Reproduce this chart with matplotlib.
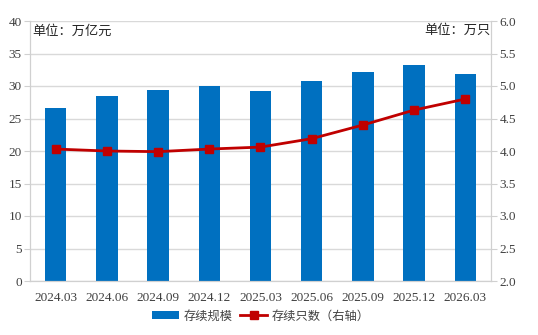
import matplotlib
matplotlib.use("Agg")
import matplotlib.pyplot as plt
from matplotlib.lines import Line2D
from matplotlib.patches import Patch

categories = ["2024.03", "2024.06", "2024.09", "2024.12", "2025.03",
              "2025.06", "2025.09", "2025.12", "2026.03"]
scale_values = [26.6, 28.5, 29.4, 30.0, 29.2, 30.7, 32.2, 33.3, 31.9]   # 万亿元
count_values = [4.03, 4.00, 3.99, 4.03, 4.06, 4.19, 4.40, 4.63, 4.80]   # 万只
left_ticks = [0, 5, 10, 15, 20, 25, 30, 35, 40]
right_ticks = [2.0, 2.5, 3.0, 3.5, 4.0, 4.5, 5.0, 5.5, 6.0]

plt.rcParams['font.family'] = ['Liberation Serif', 'Noto Sans CJK SC', 'DejaVu Sans']
cjk = ['Noto Sans CJK SC', 'DejaVu Sans']

fig = plt.figure(figsize=(5.38, 3.35), dpi=100)
ax = fig.add_axes([30/538, 1-281/335, 461/538, 260/335])
ax2 = ax.twinx()

x = list(range(len(categories)))
ax.bar(x, scale_values, width=0.42, color='#0070C0', zorder=2)
ax2.plot(x, count_values, color='#C00000', lw=2.0, marker='s', ms=5.5,
         markerfacecolor='#C00000', markeredgecolor='#C00000', zorder=3)

ax.set_xlim(-0.5, len(categories) - 0.5)
ax.set_ylim(0, 40)
ax2.set_ylim(2.0, 6.0)
ax.set_yticks(left_ticks)
ax.set_yticklabels([str(v) for v in left_ticks])
ax2.set_yticks(right_ticks)
ax2.set_yticklabels([f"{v:.1f}" for v in right_ticks])
ax.set_xticks(x)
ax.set_xticklabels(categories)

ax.grid(axis='y', color='#D9D9D9', lw=1, zorder=0)
ax.set_axisbelow(True)
for a in (ax, ax2):
    a.spines['top'].set_visible(False)
    a.spines['left'].set_color('#D0D0D0')
    a.spines['right'].set_color('#D0D0D0')
    a.spines['bottom'].set_color('#D0D0D0')
ax.tick_params(axis='y', length=4, color='#D0D0D0', labelsize=9.5, labelcolor='#404040', pad=2)
ax2.tick_params(axis='y', length=4, color='#D0D0D0', labelsize=9.5, labelcolor='#404040', pad=2)
ax.tick_params(axis='x', length=0, labelsize=9.5, labelcolor='#404040', pad=8)

ax.text(0.006, 0.985, "单位：万亿元", transform=ax.transAxes, ha='left', va='top',
        fontsize=9.5, color='#262626', family=cjk)
ax.text(0.998, 0.99, "单位：万只", transform=ax.transAxes, ha='right', va='top',
        fontsize=9.5, color='#262626', family=cjk)

handles = [Patch(facecolor='#0070C0', edgecolor='none'),
           Line2D([0], [0], color='#C00000', lw=2.0, marker='s', ms=5.5)]
leg = fig.legend(handles, ["存续规模", "存续只数（右轴）"], loc='center',
                 bbox_to_anchor=(0.485, 1-316/335), ncol=2, frameon=False,
                 prop={'family': cjk, 'size': 8.8}, handlelength=2.2,
                 handleheight=0.6, columnspacing=0.6, handletextpad=0.4)
for t in leg.get_texts():
    t.set_color('#404040')

fig.savefig("out.png", dpi=100)
